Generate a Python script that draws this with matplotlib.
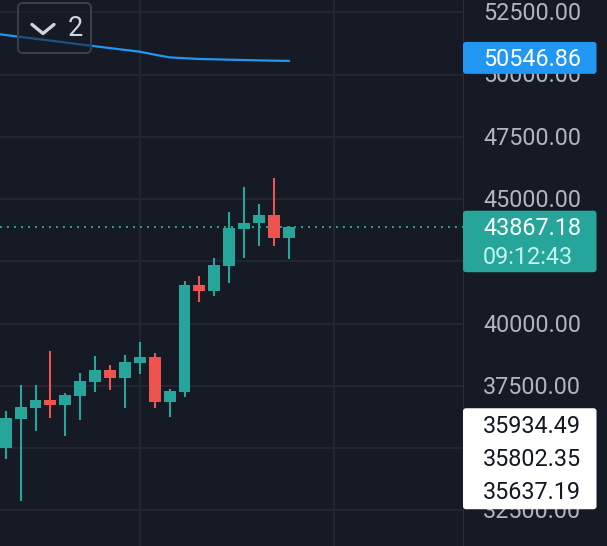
import numpy as np
import matplotlib.pyplot as plt
from matplotlib.patches import FancyBboxPatch

plt.rcParams['font.family'] = ['Roboto', 'DejaVu Sans']

# candle data
opens = [35012, 36165, 36619, 36928, 36727, 37101, 37663, 38133, 37823, 38426,
         38667, 36860, 37261, 41546, 41317, 42309, 43795, 44024, 44357, 43446]
highs = [36486, 37530, 37530, 38896, 37197, 38000, 38695, 38333, 38735, 39269,
         38803, 37358, 41719, 41908, 42643, 44490, 45494, 44799, 45831, 43900]
lows = [34558, 32872, 35695, 36217, 35494, 36125, 37261, 37330, 36619, 37960,
        36594, 36257, 37036, 40851, 41117, 41614, 42618, 43125, 43125, 42590]
closes = [36193, 36647, 36928, 36727, 37129, 37691, 38133, 37823, 38442, 38667,
          36860, 37289, 41546, 41317, 42349, 43823, 44048, 44357, 43446, 43867.18]

# moving average, first value belongs to the candle before the first one
ma_values = [51660, 51586, 51510, 51434, 51361, 51285, 51209, 51134, 51060, 50988,
             50916, 50795, 50687, 50654, 50622, 50610, 50594, 50582, 50566, 50554,
             50546.86]

last_price = 43867.18
countdown = "09:12:43"
ma_last = 50546.86
other_prices = [35934.49, 35802.35, 35637.19]
tick_values = [32500, 35000, 37500, 40000, 42500, 45000, 47500, 50000, 52500]
legend_count = "2"

BG = '#161a25'
GRID = '#242833'
UP = '#26a69a'
DOWN = '#ef5350'
BLUE = '#2196f3'
LABEL = '#b2b5be'
FS = 16.8
TX = 20  # left edge of the scale texts, px from the separator

W, H = 607, 546
split = 463
ppx = 2500 / 62.25  # price per pixel
y_top = 45000 + 199 * ppx
y_bot = 45000 - 347 * ppx

fig = plt.figure(figsize=(W / 100, H / 100), dpi=100)
fig.patch.set_facecolor(BG)

ax = fig.add_axes([0, 0, split / W, 1])
ax.set_facecolor(BG)
ax.set_xlim(-0.383, 30.69)
ax.set_ylim(y_bot, y_top)
for s in ax.spines.values():
    s.set_visible(False)
ax.set_xticks([])
ax.set_yticks([])

# grid
for t in tick_values:
    ax.axhline(t, color=GRID, lw=1.3, zorder=0)
for gx in [9, 22]:
    ax.axvline(gx, color=GRID, lw=1.3, zorder=0)

# candles
x = np.arange(len(opens))
o = np.array(opens)
c = np.array(closes)
colors = [UP if cc >= oo else DOWN for oo, cc in zip(o, c)]
ax.vlines(x, lows, highs, colors=colors, lw=1.5, zorder=2)
ax.bar(x, np.abs(c - o), bottom=np.minimum(o, c), width=0.8, color=colors,
       zorder=3)

# moving average
ax.plot(np.arange(-1, len(ma_values) - 1), ma_values, color=BLUE, lw=1.6,
        zorder=2)

# last price line
ax.axhline(last_price, color=UP, lw=1.4, ls=(0, (1, 2.6)), zorder=1)

# right price scale
axr = fig.add_axes([split / W, 0, (W - split) / W, 1])
axr.set_facecolor(BG)
axr.set_xlim(0, W - split)
axr.set_ylim(y_bot, y_top)
axr.axis('off')
axr.axvline(0.5, color='#2a2e39', lw=1.5)

for t in tick_values:
    axr.text(TX, t - 1.5 * ppx, f"{t:.2f}", ha='left', va='center',
             fontsize=FS, color=LABEL, zorder=1)


def price_box(y_hi, y_lo, color):
    box = FancyBboxPatch((0, y_lo), 133.5, y_hi - y_lo,
                         boxstyle="round,pad=0,rounding_size=3",
                         mutation_aspect=ppx, fc=color, ec='none', zorder=3)
    axr.add_patch(box)


# MA label
price_box(ma_last + 19 * ppx, ma_last - 13 * ppx, BLUE)
axr.text(TX, ma_last + 1.5 * ppx, f"{ma_last:.2f}", ha='left', va='center',
         fontsize=FS, color='white', zorder=4)

# last price label with countdown
price_box(last_price + 16.5 * ppx, last_price - 45 * ppx, UP)
axr.text(TX, last_price - 1.5 * ppx, f"{last_price:.2f}", ha='left',
         va='center', fontsize=FS, color='white', zorder=4)
axr.text(TX, last_price - 30 * ppx, countdown, ha='left', va='center',
         fontsize=FS, color='#c4f3ec', zorder=4)

# stacked labels for other price lines
first = other_prices[0]
price_box(first + 16.5 * ppx, first - 84.5 * ppx, 'white')
for k, p in enumerate(other_prices):
    axr.text(TX, first - (1.5 + 33.3 * k) * ppx, f"{p:.2f}", ha='left',
             va='center', fontsize=FS, color='#131722', zorder=4)

# collapsed legend button
ov = fig.add_axes([0, 0, 1, 1])
ov.set_xlim(0, W)
ov.set_ylim(H, 0)
ov.axis('off')
ov.patch.set_alpha(0)
btn = FancyBboxPatch((18, 3), 73, 50, boxstyle="round,pad=0,rounding_size=5",
                     fc=(0.086, 0.1, 0.145, 0.55), ec='#3a3e4a', lw=1.5)
ov.add_patch(btn)
ov.plot([32, 43, 54], [24.5, 33.5, 24.5], color='#d1d4dc', lw=2.4,
        solid_capstyle='round', solid_joinstyle='round')
ov.text(75, 28, legend_count, ha='center', va='center', fontsize=19.5,
        color='#d1d4dc')

fig.savefig('out.png', dpi=100, facecolor=BG)
